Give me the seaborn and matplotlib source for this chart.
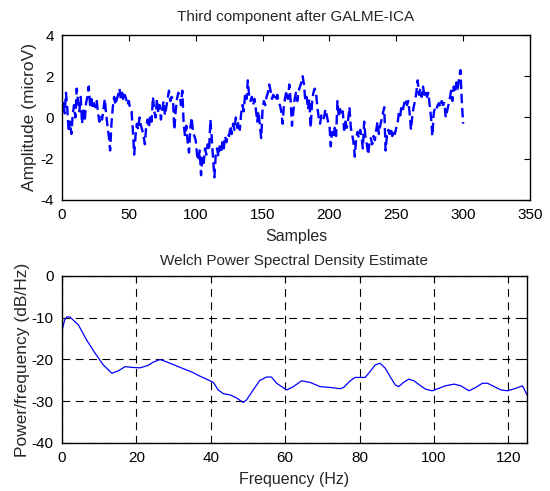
import numpy as np
import matplotlib
matplotlib.use('Agg')
import matplotlib.pyplot as plt
import seaborn as sns

# third ICA component, samples 0..300
amplitude = [
  0.3, 0.8, 0.2, 1.2, 0.4, -0.7, -0.2, -0.8, 0.1, 0.6, 0.0, 1.4, 0.8, 0.3, 1.0, -0.3, 0.4, -0.2, 0.7, 1.0,
  1.5, 0.6, 0.9, 0.4, 0.7, 0.5, 0.8, 0.2, -0.2, 0.1, -0.1, 0.4, 0.9, 0.2, -0.4, -0.9, -1.6, -0.3, 0.5, 1.0,
  0.6, 0.9, 1.1, 1.4, 0.9, 1.2, 0.8, 1.1, 0.9, 0.6, 0.8, 0.4, 0.3, -0.6, -1.8, -0.9, -0.3, -0.6, 0.0, -0.4,
  -0.6, -0.9, -1.3, -0.4, -0.1, -0.5, 0.1, -0.2, 1.0, 0.3, 0.0, 0.9, 0.2, 0.6, -0.1, 0.4, 0.8, 0.1, 0.5, 0.9,
  1.3, 0.8, 1.0, 0.9, -0.6, 0.3, 0.9, 1.2, 1.1, 0.6, 1.3, -0.3, -0.9, -0.4, -1.2, -1.7, -0.5, 0.0, -0.7, -0.9,
  -1.1, -1.8, -2.1, -1.6, -2.8, -1.9, -2.2, -1.5, -1.8, -1.3, -1.6, -0.1, -1.0, -2.0, -2.9, -1.8, -1.5, -1.9, -1.4, -1.7,
  -1.2, -1.5, -0.9, -1.2, -0.8, -0.9, -0.4, -0.8, -0.3, -0.6, 0.0, -0.5, -0.2, -0.6, 0.2, 0.6, 0.3, 1.2, 0.9, 1.8,
  1.0, 0.8, 1.0, 0.6, 0.9, 0.4, -0.2, 0.3, -0.4, -1.0, 0.4, 0.8, 0.6, 1.0, 1.2, 1.6, 1.3, 0.9, 1.1, 1.0,
  0.8, 1.1, 0.7, 0.6, 0.3, -0.3, 0.6, 1.0, 1.3, 0.9, 1.6, 0.8, -0.4, 0.3, 0.9, 1.2, 0.8, 1.3, 1.5, 1.7,
  2.0, 1.6, 0.8, 1.0, 0.4, 0.9, -0.5, 0.7, 1.2, 1.4, 1.2, 0.5, 0.0, -0.3, 0.1, -0.1, 0.0, 0.4, 0.1, -0.2,
  -0.3, -1.4, -0.7, -1.0, -0.5, -0.9, 0.8, 0.0, 0.4, 0.1, 0.3, -0.6, -0.2, -0.5, -0.1, 0.5, -0.5, -0.8, -1.2, -1.9,
  -1.0, -0.7, -1.0, -0.6, -0.9, -1.5, -0.2, -1.0, -1.3, -1.8, -1.2, -1.0, -1.3, -0.9, -1.1, -0.6, -0.2, -0.8, -0.4, -0.1,
  0.2, 0.5, -1.6, -0.9, -0.6, -0.8, -0.5, -0.9, -0.6, -0.8, -0.5, -0.3, 0.3, 0.1, 0.6, 0.4, 0.7, 0.9, 0.6, 0.8,
  0.2, -0.6, 0.1, 0.5, 0.8, 1.2, 1.8, 1.1, 1.4, 1.0, 1.5, 1.1, 1.3, 1.0, 1.2, 0.6, 0.0, -0.9, 0.2, 0.5,
  0.4, 0.6, 0.7, 0.5, 0.8, 0.6, 0.7, 0.0, 0.3, 0.6, 0.9, 1.3, 0.8, 1.5, 1.2, 1.7, 1.4, 1.9, 2.3, 0.8,
  -0.3,
]
samples = np.arange(len(amplitude))

# welch PSD estimate
freq_hz = [0.1, 0.7, 1.3, 2.1, 4.4, 6.6, 8.9, 11.1, 13.4, 15.2, 17.0, 18.8, 21.0, 23.2, 24.6, 26.4,
           28.2, 30.4, 32.6, 34.9, 37.1, 39.3, 40.7, 42.0, 43.4, 45.2, 46.9, 48.7, 49.6, 51.4, 53.2,
           55.0, 56.3, 57.7, 60.4, 62.2, 64.4, 66.7, 69.4, 72.1, 74.8, 75.7, 77.5, 78.8, 80.1, 81.5,
           82.8, 84.2, 85.5, 86.9, 88.2, 89.6, 90.5, 91.8, 93.2, 94.6, 96.4, 97.7, 99.5, 101.3, 103.1,
           105.4, 107.2, 109.4, 111.2, 113.0, 114.4, 116.2, 118.0, 119.8, 122.0, 123.8, 125.0]
psd_db = [-12.8, -10.6, -9.8, -9.8, -11.7, -15.3, -18.5, -21.3, -23.3, -22.7, -21.7, -21.9, -22.0,
          -21.4, -20.6, -20.0, -20.6, -21.4, -22.2, -23.0, -24.0, -24.9, -25.5, -27.3, -28.2, -28.5,
          -29.2, -30.3, -29.7, -27.3, -25.0, -24.2, -24.2, -25.7, -27.3, -26.5, -25.1, -25.5, -26.5,
          -26.7, -27.0, -26.7, -25.1, -24.3, -24.3, -24.3, -22.9, -21.3, -20.9, -22.1, -24.1, -26.1,
          -26.5, -25.5, -24.7, -25.1, -26.3, -27.1, -27.5, -26.9, -26.3, -25.9, -26.3, -27.5, -26.7,
          -25.7, -25.7, -26.5, -27.3, -27.5, -26.9, -26.3, -28.5]

sns.set_style("white")
plt.rcParams['font.family'] = ['Liberation Sans', 'DejaVu Sans']
plt.rcParams['font.size'] = 11
plt.rcParams['axes.unicode_minus'] = False

fig = plt.figure(figsize=(5.5, 4.91), dpi=100)
ax1 = fig.add_axes([0.1127, 0.5927, 0.8509, 0.336])
ax2 = fig.add_axes([0.1127, 0.0978, 0.8455, 0.3401])

sns.lineplot(x=samples, y=amplitude, ax=ax1, color='blue', linewidth=1.7)
ax1.lines[0].set_dashes([4, 2])
ax1.set_xlim(0, 350)
ax1.set_ylim(-4, 4)
ax1.set_xticks(range(0, 351, 50))
ax1.set_yticks([-4, -2, 0, 2, 4])
ax1.set_title('Third component after GALME-ICA', fontsize=11, pad=10)
ax1.set_xlabel('Samples', fontsize=11.5, labelpad=5)
ax1.set_ylabel('Amplitude (microV)', fontsize=12.5, labelpad=2)

sns.lineplot(x=freq_hz, y=psd_db, ax=ax2, color='blue', linewidth=0.9)
ax2.set_xlim(0, 125)
ax2.set_ylim(-40, 0)
ax2.set_xticks(range(0, 121, 20))
ax2.set_yticks(range(-40, 1, 10))
ax2.grid(True, color='black', linestyle=(0, (7, 5)), linewidth=0.8)
ax2.set_title('Welch Power Spectral Density Estimate', fontsize=11, pad=8)
ax2.set_xlabel('Frequency (Hz)', fontsize=11.5, labelpad=5)
ax2.set_ylabel('Power/frequency (dB/Hz)', fontsize=12.5, labelpad=1)

for ax in (ax1, ax2):
  for sp in ax.spines.values():
    sp.set_color('black')
    sp.set_linewidth(1.0)
  ax.tick_params(direction='in', length=4, width=0.8, top=True, right=True,
                 labelsize=11, colors='black', pad=6)

fig.savefig('out.png', dpi=100)
